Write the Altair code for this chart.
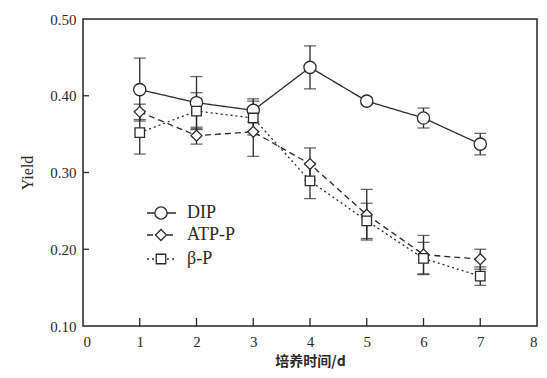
import altair as alt
import pandas as pd

days = [1, 2, 3, 4, 5, 6, 7]
series_names = ["DIP", "ATP-P", "β-P"]
dip = [0.408, 0.391, 0.381, 0.437, 0.393, 0.371, 0.337]
dip_err = [0.041, 0.034, 0.015, 0.028, 0.004, 0.013, 0.014]
atp = [0.379, 0.348, 0.353, 0.311, 0.245, 0.193, 0.187]
atp_err = [0.010, 0.011, 0.032, 0.021, 0.033, 0.025, 0.013]
beta = [0.352, 0.380, 0.371, 0.289, 0.237, 0.188, 0.165]
beta_err = [0.028, 0.024, 0.022, 0.023, 0.023, 0.021, 0.012]
x_ticks = [1, 2, 3, 4, 5, 6, 7]
y_ticks = [0.2, 0.3, 0.4]

rows = []
for name, vals, errs in zip(series_names, [dip, atp, beta], [dip_err, atp_err, beta_err]):
    for d, v, e in zip(days, vals, errs):
        rows.append({"day": d, "series": name, "y": v, "lo": v - e, "hi": v + e})
df = pd.DataFrame(rows)

W, H = 454, 307
FONT = "Liberation Serif"
INK = "#2a2a2a"

xs = alt.Scale(domain=[0, 8], nice=False)
ys = alt.Scale(domain=[0.10, 0.50], nice=False, zero=False)

dash_scale = alt.Scale(domain=series_names, range=[[1, 0], [6, 4], [2, 3]])
shape_scale = alt.Scale(domain=series_names, range=["circle", "diamond", "square"])
size_scale = alt.Scale(domain=series_names, range=[150, 90, 150])

x_axis = alt.Axis(values=list(range(0, 9)), title="培养时间/d", tickSize=0,
                  labelFont=FONT, labelFontSize=15, labelColor=INK, labelPadding=8,
                  titleFont="Noto Sans CJK SC", titleFontSize=14, titleFontWeight="bold",
                  titleColor=INK, titlePadding=5, domain=False, grid=False)
y_axis = alt.Axis(values=[0.1, 0.2, 0.3, 0.4, 0.5], format=".2f", title="Yield", tickSize=0,
                  labelFont=FONT, labelFontSize=15, labelColor=INK, labelPadding=7,
                  titleFont=FONT, titleFontSize=16, titleFontWeight="normal",
                  titleColor=INK, titlePadding=14, domain=False, grid=False)

X = alt.X("day:Q", scale=xs, axis=x_axis)

base = alt.Chart(df)

lines = base.mark_line(color=INK, strokeWidth=1.3).encode(
    x=X,
    y=alt.Y("y:Q", scale=ys, axis=y_axis),
    strokeDash=alt.StrokeDash("series:N", scale=dash_scale, legend=None),
    detail="series:N",
)
err_line = base.mark_rule(color=INK, strokeWidth=1.3).encode(
    x=X, y=alt.Y("lo:Q", scale=ys, axis=None), y2="hi:Q"
)
cap_hi = base.mark_tick(color=INK, orient="horizontal", size=12, thickness=1.3).encode(
    x=X, y=alt.Y("hi:Q", scale=ys, axis=None)
)
cap_lo = base.mark_tick(color=INK, orient="horizontal", size=12, thickness=1.3).encode(
    x=X, y=alt.Y("lo:Q", scale=ys, axis=None)
)
points = base.mark_point(filled=False, fill="white", fillOpacity=1, color=INK, strokeWidth=1.3, opacity=1).encode(
    x=X, y=alt.Y("y:Q", scale=ys, axis=None),
    shape=alt.Shape("series:N", scale=shape_scale, legend=None),
    size=alt.Size("series:N", scale=size_scale, legend=None),
)

xt = alt.Chart(pd.DataFrame({"day": x_ticks})).mark_rule(color=INK, strokeWidth=1.3).encode(
    x=X, y=alt.value(H), y2=alt.value(H - 8)
)
yt = alt.Chart(pd.DataFrame({"t": y_ticks})).mark_rule(color=INK, strokeWidth=1.3).encode(
    y=alt.Y("t:Q", scale=ys, axis=None), x=alt.value(0), x2=alt.value(6)
)
frame = alt.Chart(pd.DataFrame({"f": [0]})).mark_rect(fill=None, fillOpacity=0, stroke=INK, strokeWidth=1.5).encode(
    x=alt.value(0), x2=alt.value(W), y=alt.value(0), y2=alt.value(H)
)

# legend (drawn inside the plot)
leg_rows = [194, 216, 240]
leg = pd.DataFrame({"series": series_names, "py": leg_rows})
leg_y = alt.Y("py:Q", scale=None, axis=None)
leg_line = alt.Chart(leg).mark_rule(color=INK, strokeWidth=1.3).encode(
    y=leg_y, x=alt.value(64), x2=alt.value(93),
    strokeDash=alt.StrokeDash("series:N", scale=dash_scale, legend=None),
)
leg_pt = alt.Chart(leg).mark_point(filled=False, fill="white", fillOpacity=1, color=INK, strokeWidth=1.3, opacity=1).encode(
    y=leg_y, x=alt.value(78),
    shape=alt.Shape("series:N", scale=shape_scale, legend=None),
    size=alt.Size("series:N", scale=alt.Scale(domain=series_names, range=[110, 70, 110]), legend=None),
)
leg_txt = alt.Chart(leg).mark_text(align="left", baseline="middle", font=FONT, fontSize=18, color=INK).encode(
    y=leg_y, x=alt.value(104), text="series:N"
)

chart = alt.layer(lines, err_line, cap_hi, cap_lo, points, xt, yt, frame, leg_line, leg_pt, leg_txt).resolve_scale(
    y="independent"
).properties(
    width=W, height=H,
    autosize=alt.AutoSizeParams(type="none"),
    padding={"left": 75, "top": 11, "right": 2, "bottom": 44},
).configure_view(stroke=None).configure(background="white")

chart.save("out.html", embed_options={"renderer": "svg", "actions": False})
